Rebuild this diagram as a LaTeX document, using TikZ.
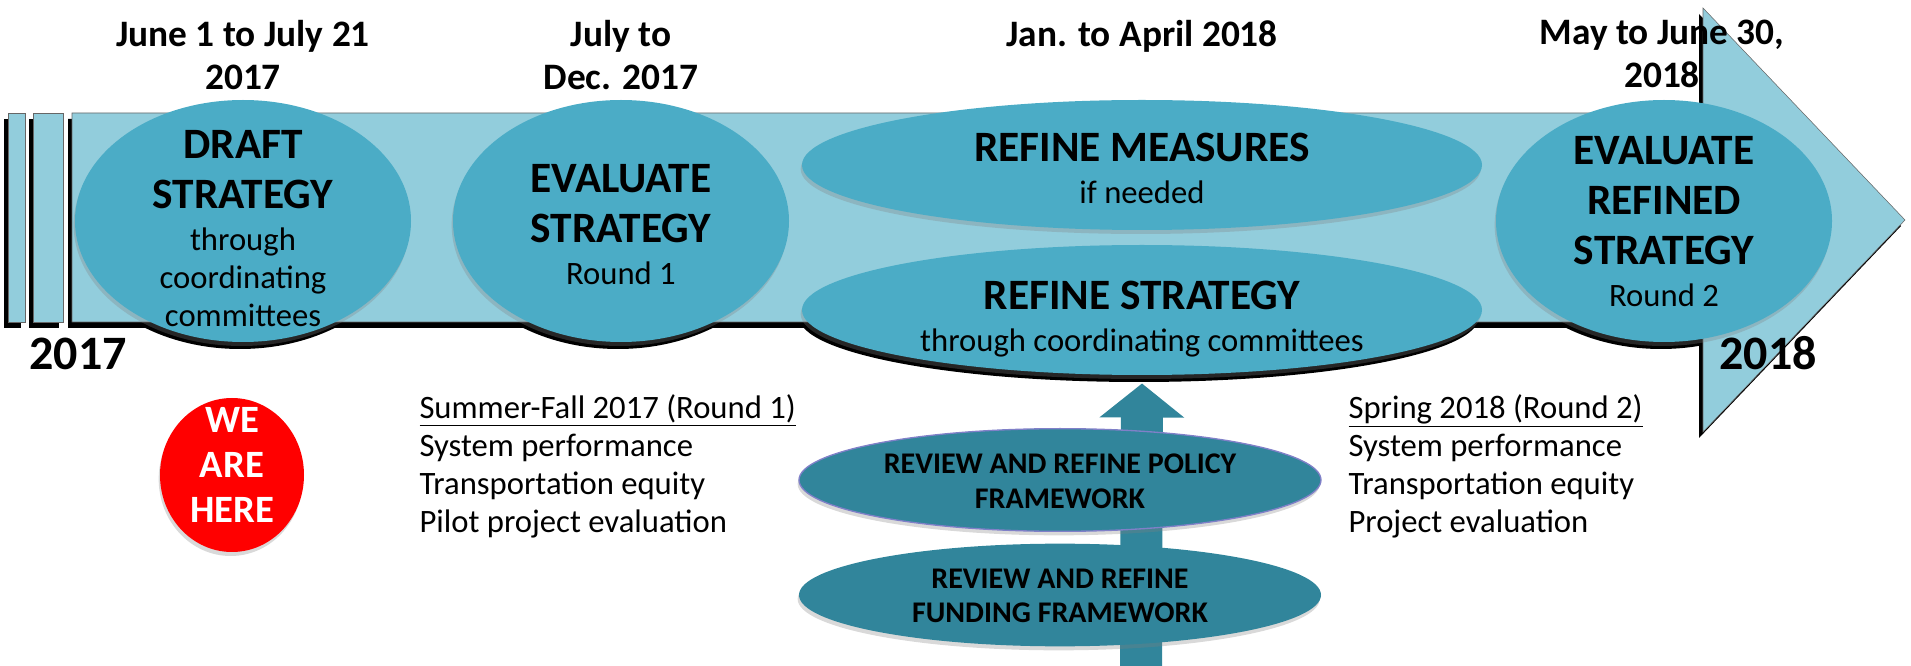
\documentclass[tikz,border=0pt]{standalone}
\usepackage{fontspec}
\setmainfont{Carlito}
\usetikzlibrary{shapes.geometric,shadows,arrows.meta}

\definecolor{arrowcol}{RGB}{146,205,220}
\definecolor{stagecol}{RGB}{75,172,198}
\definecolor{reviewcol}{RGB}{49,133,155}
\definecolor{rimcol}{RGB}{128,128,200}

\newcommand\stagettl{\fontsize{32.5pt}{37.5pt}\selectfont\bfseries}
\newcommand\stagesub{\fontsize{24.5pt}{28.5pt}\selectfont\mdseries}

\tikzset{every picture/.style={line width=0.75pt}}
\tikzset{
  stage/.style={ellipse, fill=stagecol, draw=none, inner sep=0pt, minimum width=252pt, minimum height=181.5pt},
  wide stage/.style={stage, minimum width=510pt, minimum height=97.5pt},
  review/.style={ellipse, fill=reviewcol, inner sep=0pt, minimum width=391.5pt, minimum height=77pt},
  hard/.style={fill=black, draw=none},
  soft/.style={drop shadow={shadow xshift=-1pt, shadow yshift=-3pt, opacity=0.3}},
  datetext/.style={font=\fontsize{28pt}{32pt}\selectfont\bfseries, align=center, inner sep=0pt, anchor=north},
  stagetext/.style={font=\stagesub, align=center, inner sep=0pt},
  yeartext/.style={font=\fontsize{36pt}{40pt}\selectfont\bfseries, inner sep=0pt, anchor=base},
  reviewtext/.style={font=\fontsize{22.5pt}{26pt}\selectfont\bfseries, align=center, inner sep=0pt},
  listtext/.style={font=\fontsize{24.5pt}{28.5pt}\selectfont, align=left, inner sep=0pt, anchor=north west},
}

\begin{document}
\begin{tikzpicture}[x=0.75pt,y=0.75pt,yscale=-1,xscale=1]
	\useasboundingbox (0,0) rectangle (1911,666);
	
	%Shadow: timeline
	\begin{scope}[shift={(-4,6)}]
		\fill[black] (8,113) rectangle (25,322);
		\fill[black] (33,113) rectangle (63,322);
		\fill[black] (72,113) -- (1703,113) -- (1703,8) -- (1905,220) -- (1703,432) -- (1703,322) -- (72,322) -- cycle;
	\end{scope}
	%Shadow: stages
	\node[stage, hard] (draft-sh) at (240,228) {};
	\node[stage, hard] (evalone-sh) at (618,228) {};
	\node[stage, hard] (evaltwo-sh) at (1661,228) {};
	\node[wide stage, hard] (refine-sh) at (1139,317) {};
	
	%Shape: timeline arrow
	\draw[fill=arrowcol, draw=black!60, line width=0.4pt] (8,113) rectangle (25,322);
	\draw[fill=arrowcol, draw=black!60, line width=0.4pt] (33,113) rectangle (63,322);
	\draw[fill=arrowcol, draw=black!60, line width=0.4pt] (72,113) -- (1703,113) -- (1703,8) -- (1905,220) -- (1703,432) -- (1703,322) -- (72,322) -- cycle;
	
	%Shape: Ellipse stages
	\node[stage, soft] (draft) at (243,221) {};
	\node[stage, soft] (evalone) at (621,221) {};
	\node[wide stage, soft] (measures) at (1142,165) {};
	\node[wide stage, soft] (refine) at (1142,310) {};
	\node[stage, soft] (evaltwo) at (1664,221) {};
	
	%Arrow: frameworks feed the refined strategy
	\coordinate (feed) at (1141,666);
	\draw[reviewcol, line width=31.5pt, -{Triangle[width=62.25pt,length=25.5pt]}] (feed) -- ([shift={(0,8)}]refine.south);
	
	%Shape: Ellipse frameworks
	\node[review, soft, draw=rimcol, line width=1pt] (policy) at (1060,480) {};
	\node[review, soft] (funding) at (1060,595) {};
	
	%Shape: Circle
	\node[ellipse, fill=red, soft, inner sep=0pt, minimum width=108pt, minimum height=115.5pt] (here) at (232,475) {};
	
	% Text Node
	\node[datetext] (date-draft) at (243,20) {June 1 to July 21\\2017};
	\node[datetext] (date-evalone) at (621,20) {July to\\Dec. 2017};
	\node[datetext] (date-refine) at (1142,20) {Jan. to April 2018};
	\node[datetext] (date-evaltwo) at (1662,20) {May to June 30,\\2018};
	% Text Node
	\node[yeartext] (year-start) at (78,370) {2017};
	\node[yeartext] (year-end) at (1768,370) {2018};
	% Text Node
	\node[stagetext] (draft-txt) at (draft.center |- 0,229) {\stagettl DRAFT\\[9pt]\stagettl STRATEGY\\[3pt]\stagesub through\\\stagesub coordinating\\\stagesub committees};
	\node[stagetext] (evalone-txt) at (evalone.center |- 0,225) {\stagettl EVALUATE\\[9pt]\stagettl STRATEGY\\[3pt]\stagesub Round 1};
	\node[stagetext] (measures-txt) at (measures.center |- 0,168) {\stagettl REFINE MEASURES\\[3pt]\stagesub if needed};
	\node[stagetext] (refine-txt) at (refine.center |- 0,319) {\stagettl REFINE STRATEGY\\[3pt]\stagesub through coordinating committees};
	\node[stagetext] (evaltwo-txt) at (evaltwo.center |- 0,222) {\stagettl EVALUATE\\[9pt]\stagettl REFINED\\[9pt]\stagettl STRATEGY\\[3pt]\stagesub Round 2};
	% Text Node
	\node[reviewtext] (policy-txt) at (policy.center |- 0,481) {REVIEW AND REFINE POLICY\\FRAMEWORK};
	\node[reviewtext] (funding-txt) at (funding.center |- 0,596) {REVIEW AND REFINE\\FUNDING FRAMEWORK};
	% Text Node
	\node[font=\fontsize{29pt}{34pt}\selectfont\bfseries, text=white, align=center, inner sep=0pt] (here-txt) at (here.center |- 0,465) {WE\\ARE\\HERE};
	% Text Node
	\node[listtext] (list-one) at (419,394) {\underline{Summer-Fall 2017 (Round 1)}\\System performance\\Transportation equity\\Pilot project evaluation};
	\node[listtext] (list-two) at (1348,394) {\underline{Spring 2018 (Round 2)}\\System performance\\Transportation equity\\Project evaluation};
	
\end{tikzpicture}
\end{document}
